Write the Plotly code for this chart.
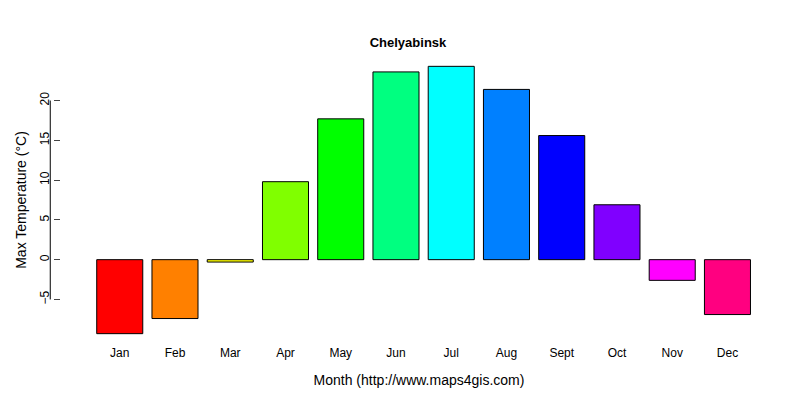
import plotly.graph_objects as go

months = ["Jan","Feb","Mar","Apr","May","Jun","Jul","Aug","Sept","Oct","Nov","Dec"]
max_temp = [-9.3,-7.4,-0.3,9.8,17.7,23.6,24.3,21.4,15.6,6.9,-2.6,-6.9]
colors = ["#FF0000","#FF8000","#FFFF00","#80FF00","#00FF00","#00FF80",
          "#00FFFF","#0080FF","#0000FF","#8000FF","#FF00FF","#FF0080"]
yticks = [-5,0,5,10,15,20]

xpos = [0.7 + 1.2*i for i in range(len(months))]
font = dict(family="Liberation Sans, Arial", size=12, color="black")

fig = go.Figure(go.Bar(x=xpos, y=max_temp, width=1.0, marker=dict(color=colors, line=dict(color="black", width=1))))
fig.add_shape(type="line", xref="paper", yref="y", x0=-0.015, x1=-0.015, y0=min(yticks), y1=max(yticks),
              line=dict(color="black", width=1))
fig.update_layout(
    width=800, height=400, plot_bgcolor="white", paper_bgcolor="white",
    margin=dict(l=49, r=31, t=48, b=64), font=font, showlegend=False,
    title=dict(text="<b>Chelyabinsk</b>", x=0.5, xanchor="center", y=0.925, font=dict(size=13)),
    xaxis=dict(range=[-0.576, 14.976], tickvals=xpos, ticktext=months, showline=False, ticks="",
               showgrid=False, zeroline=False,
               title=dict(text="Month (http://www.maps4gis.com)", standoff=16)),
    yaxis=dict(range=[-10.6, 25.6], tickvals=yticks, ticks="outside", ticklen=6, tickangle=-90,
               showgrid=False, zeroline=False, showline=False,
               title=dict(text="Max Temperature (°C)", standoff=8)),
)
fig.write_html("out.html")
